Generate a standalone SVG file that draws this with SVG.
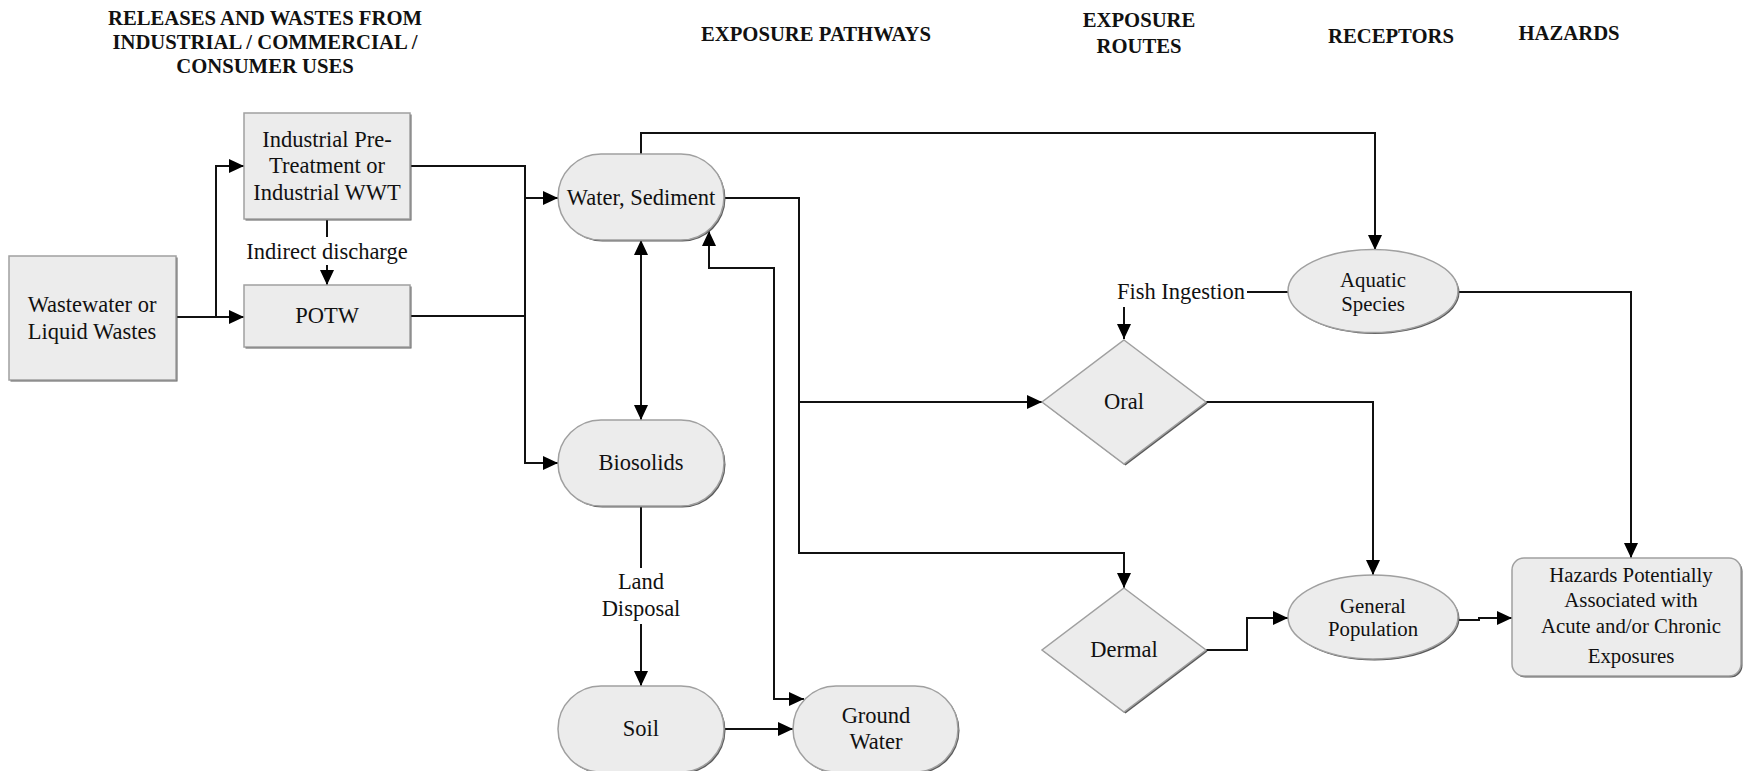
<svg xmlns="http://www.w3.org/2000/svg" width="1744" height="771" viewBox="0 0 1744 771">
<style>
text{font-family:"Liberation Serif","Times New Roman",serif;fill:#111;text-anchor:middle}
.h{font-weight:bold;font-size:20.7px}
.t{font-size:22.5px}
.s{font-size:20.8px}
.sh{fill:#5a5a5a}
.n{fill:#ececec;stroke:#a0a0a0;stroke-width:1.5}
.c path{fill:none;stroke:#111;stroke-width:2}
</style>
<defs>
<marker id="a" markerUnits="userSpaceOnUse" markerWidth="16" markerHeight="14" refX="15" refY="7" orient="auto-start-reverse">
<path d="M0,0 L15,7 L0,14 z" fill="#000"/>
</marker>
</defs>
<rect width="1744" height="771" fill="#fff"/>
<g id="headers">
<text class="h" x="265" y="25">RELEASES AND WASTES FROM</text>
<text class="h" x="265" y="49">INDUSTRIAL / COMMERCIAL /</text>
<text class="h" x="265" y="73">CONSUMER USES</text>
<text class="h" x="816" y="41">EXPOSURE PATHWAYS</text>
<text class="h" x="1139" y="27">EXPOSURE</text>
<text class="h" x="1139" y="53">ROUTES</text>
<text class="h" x="1391" y="43">RECEPTORS</text>
<text class="h" x="1569" y="40">HAZARDS</text>
</g>
<g class="c" id="connectors">
<path d="M176,317 H216 V166 H244" marker-end="url(#a)"/>
<path d="M216,317 H244" marker-end="url(#a)"/>
<path d="M327,219 V237"/>
<path d="M327,265 V285" marker-end="url(#a)"/>
<path d="M410,166 H525 V463 H558" marker-end="url(#a)"/>
<path d="M525,198 H558" marker-end="url(#a)"/>
<path d="M410,316 H525"/>
<path d="M641,154 V133 H1375 V250" marker-end="url(#a)"/>
<path d="M641,240 V420" marker-start="url(#a)" marker-end="url(#a)"/>
<path d="M724,198 H799 V553 H1124 V588" marker-end="url(#a)"/>
<path d="M799,402 H1042" marker-end="url(#a)"/>
<path d="M709,231 V268 H774 V699 H804" marker-start="url(#a)" marker-end="url(#a)"/>
<path d="M641,506 V568"/>
<path d="M641,624 V686" marker-end="url(#a)"/>
<path d="M724,729 H793" marker-end="url(#a)"/>
<path d="M1247,292 H1288"/>
<path d="M1124,307 V339" marker-end="url(#a)"/>
<path d="M1459,292 H1631 V558" marker-end="url(#a)"/>
<path d="M1206,402 H1373 V575" marker-end="url(#a)"/>
<path d="M1206,650 H1247 V618 H1288" marker-end="url(#a)"/>
<path d="M1458,620 H1479 V618 H1512" marker-end="url(#a)"/>
</g>
<g id="wastewater">
<rect class="sh" x="10.5" y="257.5" width="167" height="124"/>
<rect class="n" x="9" y="256" width="167" height="124"/>
<text class="t" x="92" y="312">Wastewater or</text>
<text class="t" x="92" y="339">Liquid Wastes</text>
</g>
<g id="ipt">
<rect class="sh" x="245.5" y="114.5" width="166" height="106"/>
<rect class="n" x="244" y="113" width="166" height="106"/>
<text class="t" x="327" y="147">Industrial Pre-</text>
<text class="t" x="327" y="173">Treatment or</text>
<text class="t" x="327" y="200">Industrial WWT</text>
</g>
<g id="indirect-label">
<text class="t" x="327" y="259">Indirect discharge</text>
</g>
<g id="potw">
<rect class="sh" x="245.5" y="286.5" width="166" height="62"/>
<rect class="n" x="244" y="285" width="166" height="62"/>
<text class="t" x="327" y="323">POTW</text>
</g>
<g id="water">
<rect class="sh" x="559.5" y="155.5" width="166" height="86" rx="43"/>
<rect class="n" x="558" y="154" width="166" height="86" rx="43"/>
<text class="t" x="641" y="205">Water, Sediment</text>
</g>
<g id="biosolids">
<rect class="sh" x="559.5" y="421.5" width="166" height="86" rx="43"/>
<rect class="n" x="558" y="420" width="166" height="86" rx="43"/>
<text class="t" x="641" y="470">Biosolids</text>
</g>
<g id="land-label">
<text class="t" x="641" y="589">Land</text>
<text class="t" x="641" y="616">Disposal</text>
</g>
<g id="soil">
<rect class="sh" x="559.5" y="687.5" width="166" height="86" rx="43"/>
<rect class="n" x="558" y="686" width="166" height="86" rx="43"/>
<text class="t" x="641" y="736">Soil</text>
</g>
<g id="groundwater">
<rect class="sh" x="794.5" y="687.5" width="165" height="86" rx="43"/>
<rect class="n" x="793" y="686" width="165" height="86" rx="43"/>
<text class="t" x="876" y="723">Ground</text>
<text class="t" x="876" y="749">Water</text>
</g>
<g id="fish-label">
<text class="t" x="1181" y="299">Fish Ingestion</text>
</g>
<g id="oral">
<polygon class="sh" points="1125.5,341.5 1207.5,403.5 1125.5,465.5 1043.5,403.5"/>
<polygon class="n" points="1124,340 1206,402 1124,464 1042,402"/>
<text class="t" x="1124" y="409">Oral</text>
</g>
<g id="dermal">
<polygon class="sh" points="1125.5,589.5 1207.5,651.5 1125.5,713.5 1043.5,651.5"/>
<polygon class="n" points="1124,588 1206,650 1124,712 1042,650"/>
<text class="t" x="1124" y="657">Dermal</text>
</g>
<g id="aquatic">
<ellipse class="sh" cx="1374.5" cy="292.5" rx="85" ry="41.5"/>
<ellipse class="n" cx="1373" cy="291" rx="85" ry="41.5"/>
<text class="s" x="1373" y="287">Aquatic</text>
<text class="s" x="1373" y="311">Species</text>
</g>
<g id="general">
<ellipse class="sh" cx="1374.5" cy="618.5" rx="85" ry="42"/>
<ellipse class="n" cx="1373" cy="617" rx="85" ry="42"/>
<text class="s" x="1373" y="613">General</text>
<text class="s" x="1373" y="636">Population</text>
</g>
<g id="hazards">
<rect class="sh" x="1513.5" y="559.5" width="229" height="118" rx="12"/>
<rect class="n" x="1512" y="558" width="229" height="118" rx="12"/>
<text class="s" x="1631" y="582">Hazards Potentially</text>
<text class="s" x="1631" y="607">Associated with</text>
<text class="s" x="1631" y="633">Acute and/or Chronic</text>
<text class="s" x="1631" y="663">Exposures</text>
</g>
</svg>
